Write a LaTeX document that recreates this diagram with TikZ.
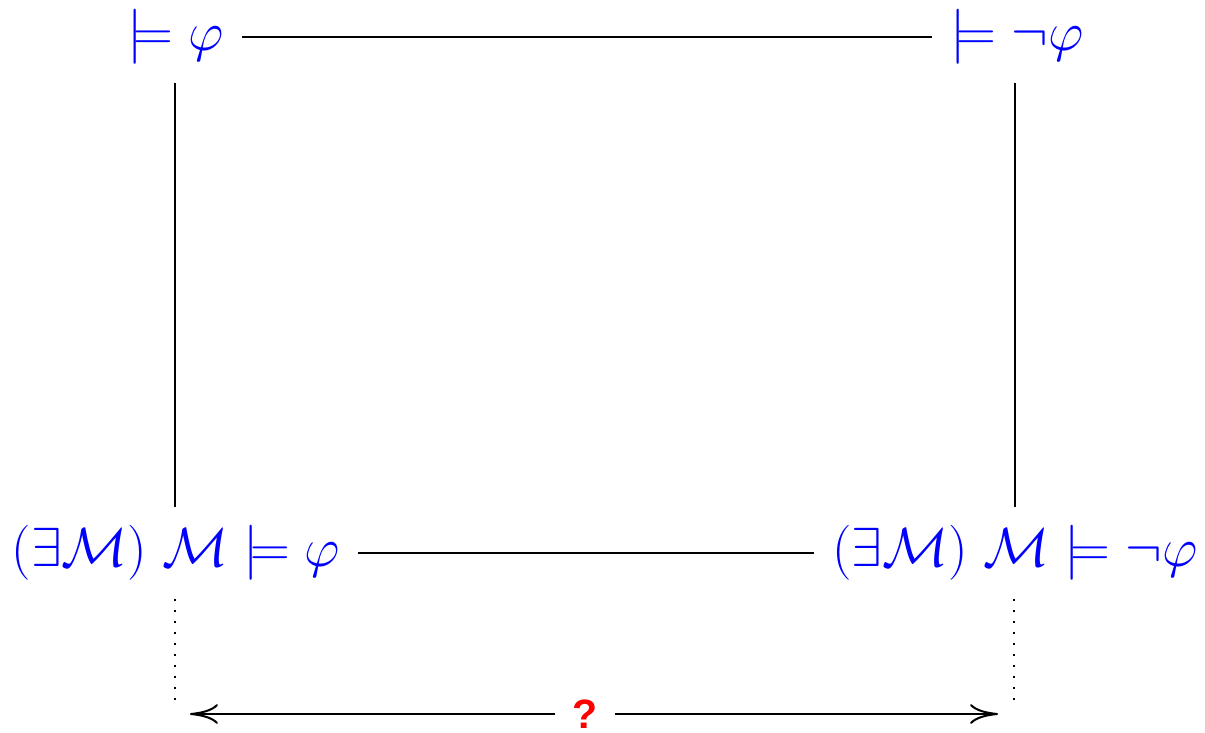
\RequirePackage{fix-cm}
\documentclass[tikz,border=0pt]{standalone}
\usepackage{fontspec}
\newfontfamily\qfont{Liberation Sans}
\usetikzlibrary{arrows.meta}
\tikzset{
  stmt/.style={text=blue, inner sep=18pt, font=\fontsize{55}{62}\selectfont},
  link/.style={line width=2pt},
  dots/.style={line width=2pt, dash pattern=on 2pt off 9pt},
  qmark/.style={text=red, inner sep=17pt, font=\qfont\bfseries\fontsize{41}{45}\selectfont},
  tip/.style={-{To[length=28pt,width=20pt]}}
}
\begin{document}
\begin{tikzpicture}[x=1pt,y=1pt]
\useasboundingbox (0,0) rectangle (1205,-733);
\node[stmt] (TL) at (176,-37) {$\models\varphi$};
\node[stmt] (TR) at (1017,-37) {$\models\neg\varphi$};
\node[stmt] (BL) at (176,-553) {$(\exists\mathcal{M})\;\mathcal{M}\models\varphi$};
\node[stmt] (BR) at (1015,-553) {$(\exists\mathcal{M})\;\mathcal{M}\models\neg\varphi$};
\draw[link] (TL) -- (TR);
\draw[link] (TL.south -| 175,0) -- (BL.north -| 175,0);
\draw[link] (TR.south -| 1015,0) -- (BR.north -| 1015,0);
\draw[link] (BL) -- (BR);
\coordinate (dlb) at (175,-700);
\coordinate (drb) at (1014,-700);
\draw[dots] (BL.south -| dlb) -- (dlb);
\draw[dots] (BR.south -| drb) -- (drb);
\coordinate (al) at (190,-714);
\coordinate (ar) at (998,-714);
\node[qmark] (q) at (585,-714) {?};
\draw[link,tip] (q) -- (al);
\draw[link,tip] (q) -- (ar);
\end{tikzpicture}
\end{document}
